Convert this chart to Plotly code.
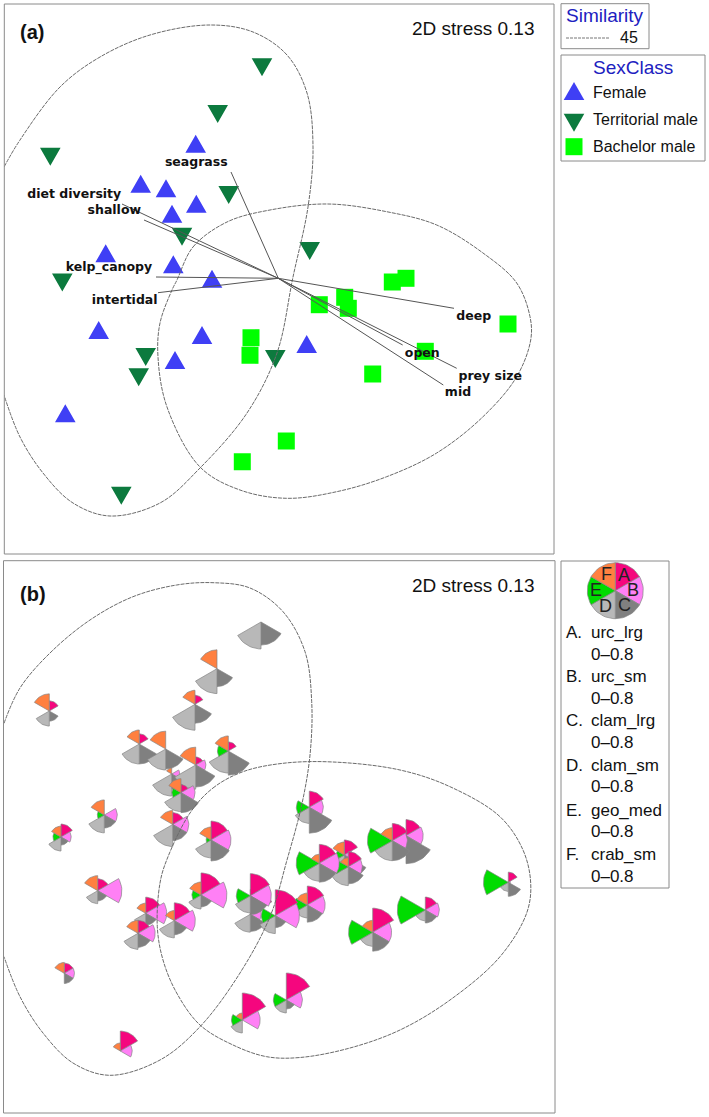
import numpy as np
import plotly.graph_objects as go

# ---------- panel (a): ordination positions ----------
female_x = [195.7, 140.7, 166, 196.3, 172, 105.7, 173.3, 212, 98.7, 202, 175, 306.7, 65.3]
female_y = [143.7, 183.7, 188.3, 203.7, 213.7, 253.3, 264.3, 278.7, 330, 335, 360, 344, 413.3]
territorial_x = [262, 217.7, 50.3, 228.7, 182, 309.7, 62.3, 145.7, 138.7, 275.3, 121.3]
territorial_y = [67.3, 114, 156.7, 195, 236.7, 251, 282.5, 357, 377.3, 359, 495.7]
bachelor_x = [392.3, 406, 319.3, 344.7, 348.3, 508, 425.3, 372.7, 251, 250, 286.3, 242.3]
bachelor_y = [282, 278.3, 304.7, 297.3, 308.3, 324, 351.3, 374, 337.7, 355.3, 441, 461.7]

vector_origin = (278.3, 278.3)
vector_names = ["seagrass", "diet diversity", "shallow", "kelp_canopy", "intertidal",
                "deep", "open", "prey size", "mid"]
vector_end_x = [231, 122, 144, 156, 158, 454, 402.7, 456.7, 443.3]
vector_end_y = [172, 204, 220, 277, 292.7, 308.3, 345, 368.3, 385]
vector_label_x = [196.3, 74.3, 114.3, 109, 124.7, 473.7, 422.3, 490.3, 458]
vector_label_y = [162.7, 195, 210.7, 268, 301, 317, 354, 377, 392.7]

# similarity contours (45 %)
a_left_x = [4, 20, 60, 100, 150, 210, 253, 287, 307, 313, 308, 293, 277, 247, 200, 160, 110, 73, 43, 20, 4]
a_left_y = [167, 140, 87, 57, 35, 25, 32, 55, 93, 147, 207, 277, 353, 413, 468, 503, 516, 503, 473, 437, 395]
a_right_x = [177, 193, 227, 270, 328, 386.7, 436.7, 483, 516.7, 530, 530.7, 516.7, 483, 436.7, 386.7, 336.7,
             286.7, 240, 200, 167, 158, 160, 172, 177]
a_right_y = [280, 247, 222, 210, 204, 211.7, 225, 253, 283, 316.7, 340, 376.7, 416.7, 453, 476.7, 491.7,
             498.3, 490, 467, 407, 357, 323, 290, 280]
b_left_x = [4, 20, 50, 90, 133, 176.7, 213, 250, 283, 305, 311.7, 310, 301.7, 287, 270, 240, 200, 160, 110, 73, 43, 20, 4]
b_left_y = [723.3, 688, 653, 620, 596.7, 585, 582.7, 588, 611.7, 651.7, 701.7, 755, 805, 860, 916.7, 973, 1026.7,
            1060, 1075.3, 1063, 1033, 996.7, 956.7]
b_right_x = [190, 213, 243, 283, 333, 400, 450, 500, 523, 530.7, 526.7, 500, 450, 400, 350, 300, 266.7, 233, 200,
             176.7, 163, 157.3, 160, 166.7, 190]
b_right_y = [813, 788, 771.7, 763.3, 762, 770, 786.7, 816.7, 850, 883, 913, 956.7, 1000, 1030, 1048, 1057.5, 1056.7,
             1045, 1025, 993, 960, 926.7, 883, 860, 813]

# ---------- panel (b): one pie per individual ----------
pie_x = [261, 217, 195, 49.3, 139.3, 165.7, 171.7, 195.7, 228.3, 181, 104.3, 172.7, 61, 211, 97.7, 145.7, 174.3, 138,
         201, 250.3, 250.3, 307.3, 275.3, 309.3, 344.3, 348.3, 319.3, 406, 392.3, 372.7, 425.3, 508.3, 242.3, 286.3,
         120.3, 64.3]
pie_y = [622, 668.7, 704.3, 711, 744, 749, 774, 765, 751, 792.7, 815, 824.5, 837, 840, 890.7, 913.3, 920.7, 933.3,
         895, 914.3, 895.7, 905, 915.7, 807.3, 855, 866.7, 863.3, 835.7, 840.7, 932.3, 910, 882.3, 1020, 1000,
         1051, 973.3]
urc_lrg = [0, 0, .26, .29, .29, 0, 0, .23, .26, .23, 0, .34, .37, .54, .34, .46, .51, .37,
           .63, .71, .63, .54, .74, .46, .43, .43, .54, .46, .49, .69, .37, .29, .77, .77, .57, .29]
urc_sm = [0, 0, 0, 0, 0, 0, .23, .29, 0, .40, .37, .46, .29, .57, .69, .60, .60, .49,
          .74, .31, .60, .51, .69, .40, .23, .40, .57, .49, .43, .54, .40, .06, .51, .46, .34, .29]
clam_lrg = [.66, .51, .54, .29, .57, .57, .43, .63, .69, .57, .37, .46, .23, .60, .29, .34, .40, .40,
            .34, .49, .54, .49, .34, .74, .71, .49, .54, .80, .57, .54, .37, .40, 0, .26, 0, .29]
clam_sm = [.77, .71, .74, .43, .57, .60, .63, .69, .63, .54, .51, .63, .40, .51, .37, .37, .49, .46,
           .40, .51, .49, .37, .51, .46, .29, .54, .51, .43, .57, .40, .31, .26, .37, .37, 0, 0]
geo_med = [0, 0, 0, 0, 0, 0, 0, 0, .31, .26, .20, 0, .23, .14, 0, 0, 0, 0,
           .26, 0, .40, .37, .40, .37, .23, .40, .66, 0, .71, .69, .80, .71, .31, .37, 0, 0]
crab_sm = [0, .54, .40, .49, .40, .51, .17, .51, .43, .40, .43, .40, .31, .37, .43, .29, .29, .37,
           .37, 0, 0, .34, 0, 0, .37, .26, .26, 0, .37, .34, 0, 0, .20, 0, .23, .31]

key_names = ["urc_lrg", "urc_sm", "clam_lrg", "clam_sm", "geo_med", "crab_sm"]
key_letters = ["A", "B", "C", "D", "E", "F"]
key_range = "0–0.8"
key_max = 0.8

SLICE_COLORS = ["#F5067E", "#FF80F5", "#808080", "#B8B8B8", "#00DC00", "#FF8040"]
RADIUS_PER_UNIT = 35
FONT = "Liberation Sans"
FULL_W, FULL_H = 709, 1117


def wedge(cx, cy, index, value):
    theta = np.radians(np.linspace(index * 60, (index + 1) * 60, 13))
    r = value * RADIUS_PER_UNIT
    xs = np.concatenate([[cx], cx + r * np.sin(theta), [cx]])
    ys = np.concatenate([[cy], cy - r * np.cos(theta), [cy]])
    return xs, ys


def triangles(xs, ys, up, width=20.6, height=18):
    px, py = [], []
    sign = 1 if up else -1
    for x, y in zip(xs, ys):
        px += [x - width / 2, x + width / 2, x, x - width / 2, None]
        py += [y + sign * height / 2, y + sign * height / 2, y - sign * height / 2, y + sign * height / 2, None]
    return px, py


def segs(x0, y0, xs, ys):
    px, py = [], []
    for x, y in zip(xs, ys):
        px += [x0, x, None]
        py += [y0, y, None]
    return px, py


fig = go.Figure()


def add_tri(xs, ys, up, color, name, ax):
    px, py = triangles(xs, ys, up)
    fig.add_trace(go.Scatter(x=px, y=py, mode="lines", fill="toself", fillcolor=color,
                             line=dict(color=color, width=0), name=name, xaxis=f"x{ax}", yaxis=f"y{ax}",
                             hoverinfo="skip"))


def add_contour(xs, ys, ax):
    fig.add_trace(go.Scatter(x=xs, y=ys, mode="lines", xaxis=f"x{ax}", yaxis=f"y{ax}", hoverinfo="skip",
                             line=dict(color="#6a6a6a", width=1, dash="4px,1px", shape="spline", smoothing=1)))


def add_pie(cx, cy, vals, ax):
    for i, v in enumerate(vals):
        if v <= 0:
            continue
        xs, ys = wedge(cx, cy, i, v)
        fig.add_trace(go.Scatter(x=xs, y=ys, mode="lines", fill="toself", fillcolor=SLICE_COLORS[i],
                                 line=dict(color="#858585", width=0.7), xaxis=f"x{ax}", yaxis=f"y{ax}",
                                 hoverinfo="skip"))


# Panel (a)
add_tri(female_x, female_y, True, "#3F3FF5", "Female", 1)
add_tri(territorial_x, territorial_y, False, "#0C7A3E", "Territorial male", 1)
fig.add_trace(go.Scatter(x=bachelor_x, y=bachelor_y, mode="markers", name="Bachelor male",
                         marker=dict(symbol="square", size=17, color="#00FF00", line=dict(width=0)),
                         xaxis="x1", yaxis="y1", hoverinfo="skip"))
add_contour(a_left_x, a_left_y, 1)
add_contour(a_right_x, a_right_y, 1)
vx, vy = segs(vector_origin[0], vector_origin[1], vector_end_x, vector_end_y)
fig.add_trace(go.Scatter(x=vx, y=vy, mode="lines", line=dict(color="#555555", width=1), xaxis="x1", yaxis="y1",
                         hoverinfo="skip"))
fig.add_trace(go.Scatter(x=vector_label_x, y=vector_label_y, text=vector_names, mode="text",
                         textposition="middle center",
                         textfont=dict(family="DejaVu Sans", size=12.5, color="#111111", weight=700),
                         xaxis="x1", yaxis="y1", hoverinfo="skip"))

# Panel (b)
for row in zip(pie_x, pie_y, urc_lrg, urc_sm, clam_lrg, clam_sm, geo_med, crab_sm):
    add_pie(row[0], row[1], row[2:], 2)
add_contour(b_left_x, b_left_y, 2)
add_contour(b_right_x, b_right_y, 2)

# Legend glyphs on a full-page overlay axis
add_tri([574], [91], True, "#3F3FF5", "Female key", 3)
add_tri([574], [122.7], False, "#0C7A3E", "Territorial key", 3)
fig.add_trace(go.Scatter(x=[574], y=[146.7], mode="markers", xaxis="x3", yaxis="y3", hoverinfo="skip",
                         marker=dict(symbol="square", size=17, color="#00FF00", line=dict(width=0))))
fig.add_trace(go.Scatter(x=[566, 609], y=[38, 38], mode="lines", xaxis="x3", yaxis="y3", hoverinfo="skip",
                         line=dict(color="#777777", width=1, dash="3px,1px")))
add_pie(615.3, 590.7, [key_max] * 6, 3)


def label(text, x, y, size, color="#111111", anchor="left", weight=None):
    fig.add_annotation(x=x, y=y, xref="x3", yref="y3", text=text, showarrow=False, xanchor=anchor, yanchor="middle",
                       font=dict(family=FONT, size=size, color=color, **({"weight": weight} if weight else {})))


label("(a)", 32, 31.5, 20, anchor="center", weight=700)
label("(b)", 32.7, 594, 20, anchor="center", weight=700)
label("2D stress 0.13", 537, 28, 19, anchor="right")
label("2D stress 0.13", 537, 585, 19, anchor="right")
label("Similarity", 605, 15, 19, color="#2020C0", anchor="center")
label("45", 618, 37, 16)
label("SexClass", 633, 67, 19, color="#2020C0", anchor="center")
label("Female", 591, 92, 16)
label("Territorial male", 591, 119, 16)
label("Bachelor male", 591, 146, 16)

key_letter_x = [624.3, 633.3, 624, 605.7, 596, 606]
key_letter_y = [575, 589.7, 605, 605.7, 590, 574]
for letter, x, y in zip(key_letters, key_letter_x, key_letter_y):
    label(letter, x, y, 18, color="#222222", anchor="center")

key_row_y = [632.3, 676.7, 720.7, 765.3, 810, 854]
key_range_y = [654.3, 698.3, 742.7, 786.7, 831.7, 876]
for letter, name, y1, y2 in zip(key_letters, key_names, key_row_y, key_range_y):
    label(letter + ".", 564.3, y1, 17)
    label(name, 589.3, y1, 17)
    label(key_range, 589.3, y2, 17)


# Legend boxes
def box(x0, y0, x1, y1):
    fig.add_shape(type="rect", xref="x3", yref="y3", x0=x0, y0=y0, x1=x1, y1=y1,
                  line=dict(color="#8a8a8a", width=1), fillcolor="rgba(0,0,0,0)", layer="below")


box(561, 3.7, 649, 48.7)
box(561, 55, 705, 161)
box(561, 561, 669, 888)
box(4.3, 4, 554, 554)
box(3.5, 560.7, 555, 1113)

hidden = dict(showgrid=False, zeroline=False, showticklabels=False, ticks="", showline=False)
fig.update_layout(
    width=FULL_W, height=FULL_H, margin=dict(l=0, r=0, t=0, b=0, pad=0), showlegend=False,
    paper_bgcolor="white", plot_bgcolor="rgba(0,0,0,0)",
    xaxis=dict(domain=[4.3 / FULL_W, 554 / FULL_W], range=[4.3, 554], **hidden),
    yaxis=dict(domain=[1 - 554 / FULL_H, 1 - 4 / FULL_H], range=[554, 4], **hidden),
    xaxis2=dict(domain=[3.5 / FULL_W, 555 / FULL_W], range=[3.5, 555], **hidden),
    yaxis2=dict(domain=[1 - 1113 / FULL_H, 1 - 560.7 / FULL_H], range=[1113, 560.7], **hidden),
    xaxis3=dict(domain=[0, 1], range=[0, FULL_W], **hidden),
    yaxis3=dict(domain=[0, 1], range=[FULL_H, 0], **hidden),
)

fig.write_html("out.html", config={"displayModeBar": False},
               post_script="document.body.style.margin='0';document.body.style.overflow='hidden';")
